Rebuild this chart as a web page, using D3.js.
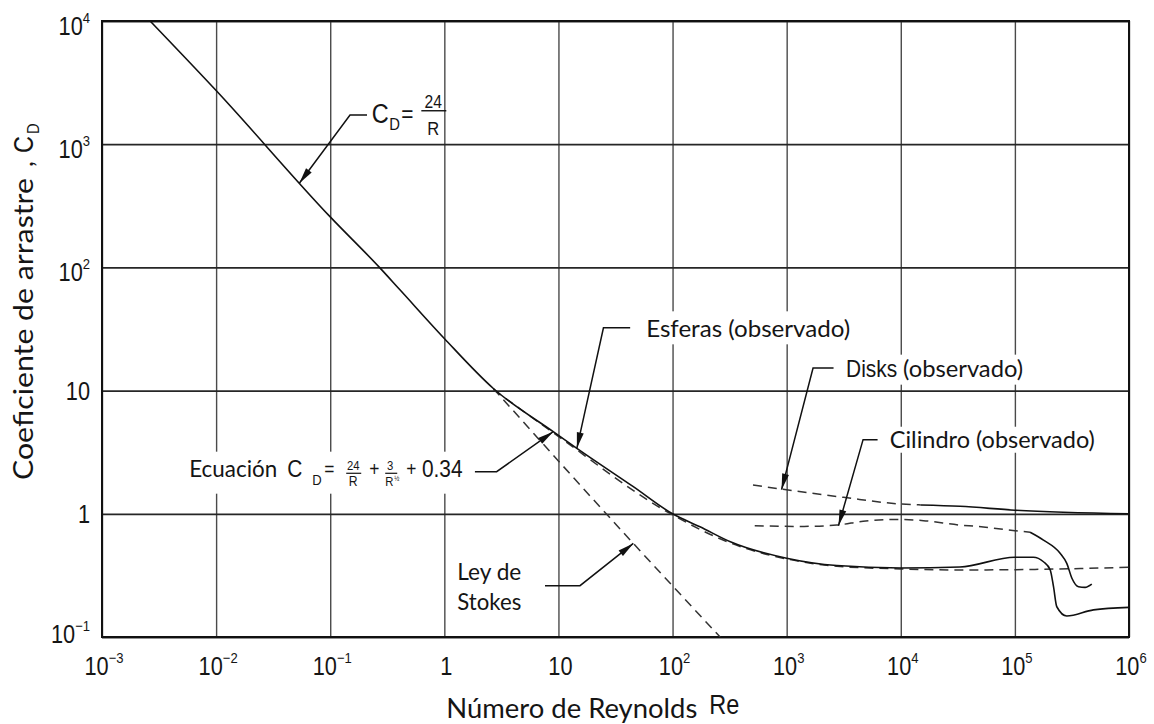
<!DOCTYPE html>
<html>
<head>
<meta charset="utf-8">
<script src="https://cdn.jsdelivr.net/npm/d3@7"></script>
<style>
body { margin: 0; background: #fff; }
text { fill: #151515; }
.helv { font-family: "Liberation Sans", Arial, Helvetica, sans-serif; }
.cal { font-family: Lato, "Open Sans", sans-serif; }
</style>
</head>
<body>
<svg id="chart" width="1154" height="724"></svg>
<script>
// axis ticks
var xTicks = [1e-3, 1e-2, 1e-1, 1, 10, 1e2, 1e3, 1e4, 1e5, 1e6];
var xTickBase = ["10", "10", "10", "1", "10", "10", "10", "10", "10", "10"];
var xTickExp = ["−3", "−2", "−1", "", "", "2", "3", "4", "5", "6"];
var yTicks = [0.1, 1, 10, 100, 1000, 10000];
var yTickBase = ["10", "1", "10", "10", "10", "10"];
var yTickExp = ["−1", "", "", "2", "3", "4"];

// esferas (observado), incl. tramo C_D = 24/R
var sphRe = [0.00264, 0.0101, 0.1, 0.27, 0.41, 1, 2.69, 9, 14.5, 45.3, 100, 174, 321, 1000, 2750, 10000, 33000, 100000, 145000, 178000, 204000, 218000, 233000, 285000, 488000, 1000000];
var sphCd = [10000, 2700, 257, 100, 65.5, 26.5, 10.4, 4.64, 3.4, 1.66, 1.0, 0.785, 0.593, 0.436, 0.38, 0.363, 0.37, 0.444, 0.444, 0.408, 0.35, 0.256, 0.176, 0.148, 0.166, 0.174];

// ecuacion C_D = 24/R + 3/sqrt(R) + 0.34
var eqRe = [2.69, 9, 100, 321, 1000, 2750, 10000, 33000, 100000, 1000000];
var eqCd = [10.2, 4.55, 0.98, 0.58, 0.43, 0.375, 0.357, 0.35, 0.352, 0.368];

// ley de Stokes (prolongacion)
var stRe = [2.69, 45.3, 261];
var stCd = [10.4, 0.575, 0.1];

// discos
var dkRe = [507, 930, 3160, 10000, 15000, 33000, 100000, 1000000];
var dkCd = [1.71, 1.58, 1.36, 1.2, 1.18, 1.15, 1.07, 1.0];
var dkSolidFrom = 15000;

// cilindro
var cyRe = [525, 1380, 2750, 4680, 8700, 15800, 33000, 46800, 100000, 136000, 178000, 249000, 285000, 316000, 361000, 412000, 472000];
var cyCd = [0.80, 0.79, 0.81, 0.87, 0.90, 0.88, 0.81, 0.79, 0.73, 0.708, 0.612, 0.479, 0.396, 0.30, 0.256, 0.253, 0.269];
var cySolidFrom = 136000;

var W = 1154, H = 724;
var margin = {top: 21, right: 25, bottom: 87, left: 102};

var svg = d3.select("#chart");

var x = d3.scaleLog().domain([1e-3, 1e6]).range([margin.left, W - margin.right]);
var y = d3.scaleLog().domain([0.1, 1e4]).range([H - margin.bottom, margin.top]);

// grid
svg.append("g")
    .attr("transform", "translate(0," + y(0.1) + ")")
    .call(d3.axisBottom(x).tickValues(xTicks).tickSize(-(y(0.1) - y(1e4))).tickFormat(""))
    .call(function(g) { g.select(".domain").remove(); })
    .selectAll("line").attr("stroke", "#4a4a4a").attr("stroke-width", 1.4);

svg.append("g")
    .attr("transform", "translate(" + x(1e-3) + ",0)")
    .call(d3.axisLeft(y).tickValues(yTicks).tickSize(-(x(1e6) - x(1e-3))).tickFormat(""))
    .call(function(g) { g.select(".domain").remove(); })
    .selectAll("line").attr("stroke", "#262626").attr("stroke-width", 1.8);

svg.append("rect")
    .attr("x", x(1e-3)).attr("y", y(1e4))
    .attr("width", x(1e6) - x(1e-3)).attr("height", y(0.1) - y(1e4))
    .attr("fill", "none").attr("stroke", "#111").attr("stroke-width", 2);

// text helper, the figure's type is tall and narrow
function helv(parent, px, py, str, size, anchor) {
    return parent.append("text").attr("class", "helv")
        .attr("transform", "translate(" + px + "," + py + ") scale(0.87,1)")
        .attr("font-size", size).attr("text-anchor", anchor || "start").text(str);
}

// tick labels
xTicks.forEach(function(d, i) {
    var t = svg.append("text").attr("class", "helv")
        .attr("transform", "translate(" + (x(d) + 2) + "," + (y(0.1) + 38) + ") scale(0.87,1)")
        .attr("font-size", 25).attr("text-anchor", "middle");
    t.append("tspan").text(xTickBase[i]);
    if (xTickExp[i]) t.append("tspan").attr("dy", -12).attr("font-size", 15).text(xTickExp[i]);
});

yTicks.forEach(function(d, i) {
    var off = yTickExp[i] ? (yTickExp[i][0] == "−" ? 6 : 14) : 9;
    var t = svg.append("text").attr("class", "helv")
        .attr("transform", "translate(" + (x(1e-3) - 12) + "," + (y(d) + off) + ") scale(0.87,1)")
        .attr("font-size", 25).attr("text-anchor", "end");
    t.append("tspan").text(yTickBase[i]);
    if (yTickExp[i]) t.append("tspan").attr("dy", -12).attr("font-size", 15).text(yTickExp[i]);
});

// axis titles
var yl = svg.append("g").attr("transform", "translate(33,480) rotate(-90)");
yl.append("text").attr("class", "cal").attr("font-size", 26).attr("fill", "#1d2b45")
    .attr("textLength", 302).attr("lengthAdjust", "spacingAndGlyphs")
    .text("Coeficiente de arrastre");
yl.append("text").attr("class", "cal").attr("x", 313).attr("font-size", 26).attr("fill", "#1d2b45").text(",");
helv(yl, 327, 0, "C", 27);
helv(yl, 346, 6, "D", 17);

svg.append("text").attr("class", "cal")
    .attr("x", x(1) + 2).attr("y", H - 6)
    .attr("font-size", 26).attr("textLength", 251).attr("lengthAdjust", "spacingAndGlyphs")
    .text("Número de Reynolds");
helv(svg, x(1) + 265, H - 10, "Re", 27);

// white boxes behind labels (cut the grid)
var boxes = svg.append("g");

// curves
var line = d3.line()
    .x(function(d) { return x(d[0]); })
    .y(function(d) { return y(d[1]); })
    .curve(d3.curveMonotoneX);

function pairs(re, cd, from, to) {
    return re.map(function(r, i) { return [r, cd[i]]; })
        .filter(function(p) { return p[0] >= from && p[0] <= to; });
}

function curve(data, dashed) {
    svg.append("path")
        .datum(data)
        .attr("d", line)
        .attr("fill", "none")
        .attr("stroke", dashed ? "#333" : "#111")
        .attr("stroke-width", dashed ? 1.5 : 1.6)
        .attr("stroke-dasharray", dashed ? "9,6" : null);
}

curve(pairs(stRe, stCd, 0, Infinity), true);
curve(pairs(eqRe, eqCd, 0, Infinity), true);
curve(pairs(sphRe, sphCd, 0, Infinity), false);
curve(pairs(dkRe, dkCd, 0, dkSolidFrom), true);
curve(pairs(dkRe, dkCd, dkSolidFrom, Infinity), false);
curve(pairs(cyRe, cyCd, 0, cySolidFrom), true);
curve(pairs(cyRe, cyCd, cySolidFrom, Infinity), false);

// annotations: leader from label to a point of a curve, with arrow head
function leader(tipRe, tipCd, offs) {
    var tx = x(tipRe), ty = y(tipCd);
    var pts = offs.map(function(o) { return [tx + o[0], ty + o[1]]; });
    pts.push([tx, ty]);
    svg.append("path")
        .attr("d", d3.line()(pts))
        .attr("fill", "none").attr("stroke", "#111").attr("stroke-width", 1.5);
    var a = pts[pts.length - 2];
    var dx = tx - a[0], dy = ty - a[1], len = Math.sqrt(dx * dx + dy * dy);
    var ux = dx / len, uy = dy / len, L = 16, w = 3.5;
    var bx = tx - ux * L, by = ty - uy * L;
    svg.append("path")
        .attr("d", "M" + tx + "," + ty + "L" + (bx - uy * w) + "," + (by + ux * w) +
            "L" + (bx + uy * w) + "," + (by - ux * w) + "Z")
        .attr("fill", "#111");
    return svg.append("g").attr("transform", "translate(" + tx + "," + ty + ")");
}

function box(g, bx, by, bw, bh) {
    var m = g.attr("transform").match(/translate\(([^,]+),([^)]+)\)/);
    boxes.append("rect")
        .attr("x", +m[1] + bx).attr("y", +m[2] + by)
        .attr("width", bw).attr("height", bh).attr("fill", "#fff");
}

function cal(g, px, py, str, size, len) {
    var t = g.append("text").attr("class", "cal").attr("x", px).attr("y", py)
        .attr("font-size", size).text(str);
    if (len) t.attr("textLength", len).attr("lengthAdjust", "spacingAndGlyphs");
    return t;
}

// C_D = 24/R
var a1 = leader(0.0536, 482, [[67.7, -68.3], [50.7, -68.3]]);
helv(a1, 72.4, -60, "C", 27);
helv(a1, 90, -53, "D", 17);
helv(a1, 102, -61, "=", 24);
helv(a1, 134, -75, "24", 18, "middle");
a1.append("line").attr("x1", 122).attr("x2", 147).attr("y1", -72.5).attr("y2", -72.5)
    .attr("stroke", "#111").attr("stroke-width", 1.4);
helv(a1, 134, -48, "R", 19, "middle");

// Esferas
var a2 = leader(14.5, 3.4, [[53.3, -120.6], [26.6, -120.6]]);
box(a2, 63, -137, 216, 33);
cal(a2, 69.3, -111, "Esferas (observado)", 24, 204);

// Disks
var a3 = leader(902, 1.57, [[52, -121.6], [31.5, -121.6]]);
box(a3, 60, -135, 185, 30);
helv(a3, 64.5, -113, "Disks", 24);
cal(a3, 121.5, -113, "(observado)", 24, 120);

// Cilindro
var a4 = leader(2845, 0.80, [[39.1, -86.1], [24.6, -86.1]]);
box(a4, 46, -99, 215, 26);
cal(a4, 51.3, -77.7, "Cilindro (observado)", 24, 205);

// Ley de Stokes
var a5 = leader(45.3, 0.575, [[-88.3, 42.3], [-53.3, 42.3]]);
cal(a5, -176, 36.8, "Ley de", 24, 64);
cal(a5, -176, 66.8, "Stokes", 24, 64);

// Ecuacion
var a6 = leader(9.0, 4.64, [[-78.3, 40], [-56.6, 40]]);
box(a6, -373, 20, 290, 42);
var e = a6.append("g").attr("transform", "translate(-364,45.6)");
cal(e, 0, 0, "Ecuación", 24, 88);
helv(e, 98, 0, "C", 24);
helv(e, 123, 8, "D", 15);
helv(e, 135, -1, "=", 20);
helv(e, 164, -7, "24", 13, "middle");
e.append("line").attr("x1", 157).attr("x2", 172).attr("y1", -4).attr("y2", -4)
    .attr("stroke", "#111").attr("stroke-width", 1.2);
helv(e, 164, 9, "R", 14, "middle");
helv(e, 180, -1, "+", 20);
helv(e, 201, -7, "3", 13, "middle");
e.append("line").attr("x1", 196).attr("x2", 208).attr("y1", -4).attr("y2", -4)
    .attr("stroke", "#111").attr("stroke-width", 1.2);
helv(e, 200, 9, "R", 13, "middle");
helv(e, 205, 4, "½", 7);
helv(e, 217, -1, "+", 20);
helv(e, 232.7, 0, "0.34", 24);
</script>
</body>
</html>
